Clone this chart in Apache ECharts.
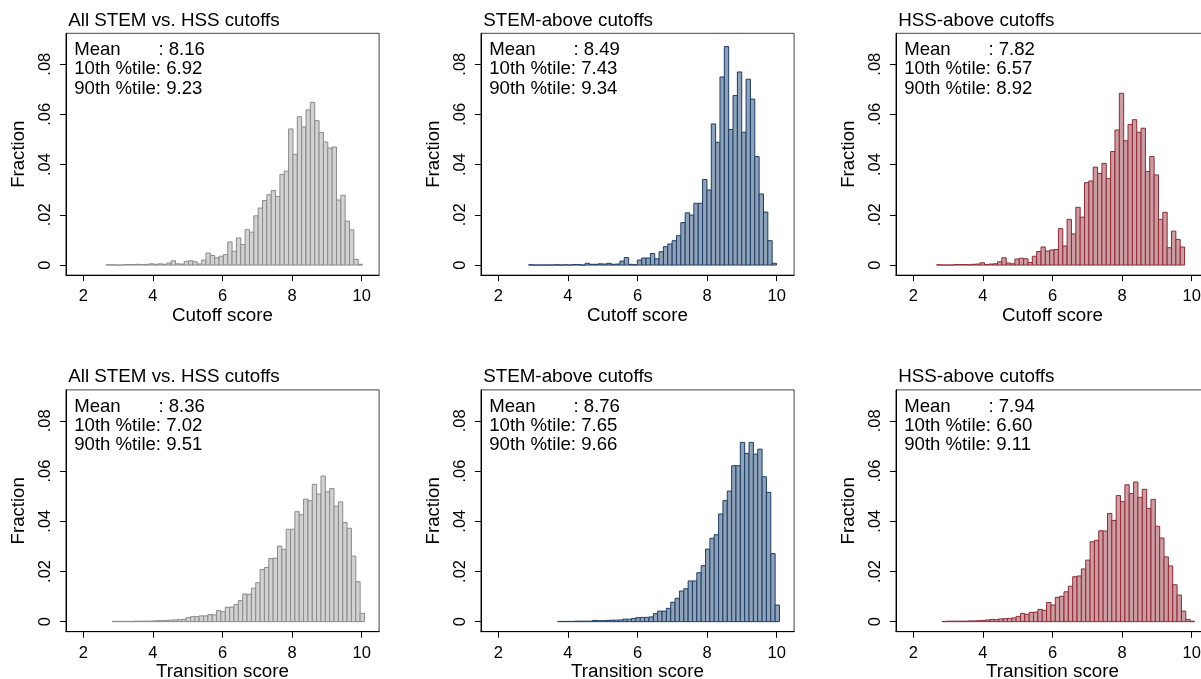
<!DOCTYPE html>
<html>
<head>
<meta charset="utf-8">
<title>Cutoff and transition score distributions</title>
<script src="https://cdn.jsdelivr.net/npm/echarts@6/dist/echarts.min.js"></script>
<style>
  html, body { margin: 0; padding: 0; background: #fff; }
  #chart { width: 1201px; height: 679px; }
</style>
</head>
<body>
<div id="chart"></div>
<script>
// Histogram bin width (score units) shared by all panels
const binWidth = 0.125;

// Cutoff score histograms: first bin edge and fraction per bin
const cutoffAllStart = 2.65;
const cutoffAll = [0.0001,0.0001,0,0,0.0002,0.0002,0.0002,0.0003,0.0002,0.0003,
  0.0005,0.0003,0.0005,0.0003,0.0008,0.0017,0.0005,0.0004,0.0015,0.0017,
  0.0013,0.0004,0.0020,0.0048,0.0038,0.0029,0.0035,0.0042,0.0092,0.0055,
  0.0108,0.0082,0.0141,0.0131,0.0196,0.0227,0.0257,0.0280,0.0297,0.0273,
  0.0361,0.0374,0.0542,0.0441,0.0591,0.0550,0.0618,0.0648,0.0575,0.0528,
  0.0490,0.0466,0.0470,0.0259,0.0278,0.0175,0.0140,0.0023,0.0003];

const cutoffStemStart = 2.87;
const cutoffStem = [0.0001,0,0,0,0,0,0.0001,0,0.0001,0,
  0.0002,0.0002,0,0.0007,0.0003,0.0003,0.0005,0.0004,0.0007,0.0003,
  0.0004,0.0016,0.0030,0.0003,0.0001,0.0020,0.0028,0.0028,0.0046,0.0025,
  0.0053,0.0073,0.0084,0.0097,0.0117,0.0169,0.0208,0.0199,0.0246,0.0246,
  0.0341,0.0299,0.0562,0.0489,0.0749,0.0870,0.0540,0.0675,0.0769,0.0529,
  0.0740,0.0661,0.0432,0.0283,0.0211,0.0097,0.0007];

const cutoffHssStart = 2.67;
const cutoffHss = [0.0001,0,0,0,0.0002,0.0002,0.0002,0.0001,0.0003,0.0004,
  0.0009,0.0002,0.0004,0.0005,0.0013,0.0029,0.0008,0.0005,0.0024,0.0027,
  0.0025,0.0010,0.0035,0.0054,0.0072,0.0056,0.0060,0.0062,0.0145,0.0076,
  0.0182,0.0124,0.0230,0.0191,0.0328,0.0335,0.0390,0.0365,0.0405,0.0344,
  0.0452,0.0538,0.0684,0.0495,0.0560,0.0579,0.0529,0.0545,0.0373,0.0432,
  0.0359,0.0182,0.0210,0.0069,0.0135,0.0102,0.0072];

// Transition score histograms
const transAllStart = 2.83;
const transAll = [0.0001,0.0001,0.0001,0.0001,0.0001,0.0002,0.0002,0.0002,0.0002,0.0003,
  0.0004,0.0004,0.0005,0.0006,0.0007,0.0008,0.0009,0.0016,0.0020,0.0020,
  0.0023,0.0023,0.0028,0.0027,0.0044,0.0040,0.0057,0.0058,0.0069,0.0084,
  0.0110,0.0109,0.0133,0.0155,0.0208,0.0216,0.0251,0.0253,0.0301,0.0288,
  0.0368,0.0368,0.0438,0.0426,0.0488,0.0482,0.0547,0.0508,0.0580,0.0517,
  0.0530,0.0460,0.0477,0.0395,0.0372,0.0261,0.0159,0.0033];

const transStemStart = 3.705;
const transStem = [0.0001,0.0001,0.0001,0.0001,0.0002,0.0002,0.0002,0.0002,0.0005,0.0004,
  0.0004,0.0005,0.0006,0.0006,0.0007,0.0010,0.0010,0.0013,0.0016,0.0017,
  0.0017,0.0019,0.0032,0.0042,0.0042,0.0053,0.0077,0.0093,0.0122,0.0131,
  0.0162,0.0162,0.0195,0.0223,0.0289,0.0332,0.0346,0.0429,0.0482,0.0520,
  0.0621,0.0621,0.0714,0.0670,0.0714,0.0667,0.0687,0.0577,0.0515,0.0271,
  0.0066];

const transHssStart = 2.83;
const transHss = [0.0001,0.0002,0.0002,0.0002,0.0002,0.0002,0.0003,0.0003,0.0004,0.0005,
  0.0007,0.0009,0.0008,0.0011,0.0012,0.0013,0.0015,0.0021,0.0033,0.0029,
  0.0037,0.0038,0.0049,0.0045,0.0076,0.0066,0.0097,0.0101,0.0119,0.0141,
  0.0179,0.0182,0.0210,0.0245,0.0318,0.0324,0.0362,0.0361,0.0431,0.0403,
  0.0502,0.0478,0.0545,0.0510,0.0556,0.0495,0.0527,0.0451,0.0487,0.0380,
  0.0333,0.0258,0.0222,0.0147,0.0106,0.0042,0.0009,0.0002];

// Panel titles, axis titles and summary statistics
const panelTitles = ['All STEM vs. HSS cutoffs', 'STEM-above cutoffs', 'HSS-above cutoffs'];
const rowAxisTitles = ['Cutoff score', 'Transition score'];
const statNames = ['Mean', '10th %tile', '90th %tile'];
const statsCutoff = [['8.16', '6.92', '9.23'], ['8.49', '7.43', '9.34'], ['7.82', '6.57', '8.92']];
const statsTrans = [['8.36', '7.02', '9.51'], ['8.76', '7.65', '9.66'], ['7.94', '6.60', '9.11']];

// Tick positions and labels
const xTicks = [2, 4, 6, 8, 10];
const yTicks = [0, 0.02, 0.04, 0.06, 0.08];
const yTickLabels = ['0', '.02', '.04', '.06', '.08'];

const FONT = '"Liberation Sans", Arial, Helvetica, sans-serif';

const panels = [
  { start: cutoffAllStart, values: cutoffAll, stats: statsCutoff[0], fill: '#d2d2d2', edge: '#8a8a8a' },
  { start: cutoffStemStart, values: cutoffStem, stats: statsCutoff[1], fill: '#8ea2b9', edge: '#1f3d63' },
  { start: cutoffHssStart, values: cutoffHss, stats: statsCutoff[2], fill: '#cc9da2', edge: '#8e2a36' },
  { start: transAllStart, values: transAll, stats: statsTrans[0], fill: '#d2d2d2', edge: '#8a8a8a' },
  { start: transStemStart, values: transStem, stats: statsTrans[1], fill: '#8ea2b9', edge: '#1f3d63' },
  { start: transHssStart, values: transHss, stats: statsTrans[2], fill: '#cc9da2', edge: '#8e2a36' }
];

// Plot-region layout (the right column runs slightly past the canvas edge)
const colLeft = [65.9, 480.9, 895.9];
const plotWidth = 313.2;
const rowTop = [33.3, 389.9];
const plotHeight = 241.8;

const grids = [], xAxes = [], yAxes = [], series = [], graphics = [];

panels.forEach((p, k) => {
  const row = Math.floor(k / 3), col = k % 3;
  const left = colLeft[col], top = rowTop[row];

  grids.push({
    left: left, top: top, width: plotWidth, height: plotHeight,
    outerBoundsMode: 'none', containLabel: false,
    show: true, borderColor: '#444', borderWidth: 1, backgroundColor: 'transparent'
  });

  xAxes.push({
    gridIndex: k, type: 'value', min: 1.5, max: 10.5,
    name: rowAxisTitles[row], nameLocation: 'middle', nameGap: 31,
    nameTextStyle: { fontFamily: FONT, fontSize: 18.8, color: '#000' },
    axisLine: { show: true, onZero: false, lineStyle: { color: '#000', width: 1 } },
    axisTick: { show: true, length: 6, customValues: xTicks, lineStyle: { color: '#000' } },
    axisLabel: { customValues: xTicks, fontFamily: FONT, fontSize: 16.5, color: '#000', margin: 13 },
    splitLine: { show: false }
  });

  yAxes.push({
    gridIndex: k, type: 'value', min: -0.004, max: 0.0923,
    name: 'Fraction', nameLocation: 'middle', nameGap: 38, nameRotate: 90,
    nameTextStyle: { fontFamily: FONT, fontSize: 18.6, color: '#000' },
    axisLine: { show: true, onZero: false, lineStyle: { color: '#000', width: 1 } },
    axisTick: { show: true, length: 6, customValues: yTicks, lineStyle: { color: '#000' } },
    axisLabel: {
      customValues: yTicks, rotate: 90, fontFamily: FONT, fontSize: 16.5, color: '#000', margin: 12,
      formatter: function (v) {
        for (let i = 0; i < yTicks.length; i++) {
          if (Math.abs(yTicks[i] - v) < 1e-9) return yTickLabels[i];
        }
        return '';
      }
    },
    splitLine: { show: false }
  });

  // Each bin as [lower edge, upper edge, fraction]
  const data = p.values.map((v, i) => [p.start + i * binWidth, p.start + (i + 1) * binWidth, v]);
  series.push({
    type: 'custom', xAxisIndex: k, yAxisIndex: k, data: data,
    encode: { x: [0, 1], y: 2 },
    clip: true, silent: true,
    renderItem: function (params, api) {
      const a = api.coord([api.value(0), 0]);
      const b = api.coord([api.value(1), api.value(2)]);
      return {
        type: 'rect',
        shape: { x: a[0], y: b[1], width: b[0] - a[0], height: a[1] - b[1] },
        style: { fill: p.fill, stroke: p.edge, lineWidth: 1 }
      };
    }
  });

  // Panel title
  graphics.push({
    type: 'text', x: left + 2.3, y: top - 12.8,
    style: { text: panelTitles[col], font: '18.8px ' + FONT, fill: '#000', align: 'left', verticalAlign: 'middle' }
  });

  // Summary statistics block
  const lineY = [17, 36, 55.2];
  statNames.forEach((nm, j) => {
    if (j === 0) {
      graphics.push({
        type: 'text', x: left + 8.3, y: top + lineY[j],
        style: { text: nm, font: '18.6px ' + FONT, fill: '#000', align: 'left', verticalAlign: 'middle' }
      });
      graphics.push({
        type: 'text', x: left + 92.5, y: top + lineY[j],
        style: { text: ': ' + p.stats[j], font: '18.6px ' + FONT, fill: '#000', align: 'left', verticalAlign: 'middle' }
      });
    } else {
      graphics.push({
        type: 'text', x: left + 8.3, y: top + lineY[j],
        style: { text: nm + ': ' + p.stats[j], font: '18.6px ' + FONT, fill: '#000', align: 'left', verticalAlign: 'middle' }
      });
    }
  });
});

const chart = echarts.init(document.getElementById('chart'), null, { renderer: 'canvas' });
chart.setOption({
  animation: false,
  backgroundColor: '#fff',
  grid: grids,
  xAxis: xAxes,
  yAxis: yAxes,
  series: series,
  graphic: graphics
});
</script>
</body>
</html>
